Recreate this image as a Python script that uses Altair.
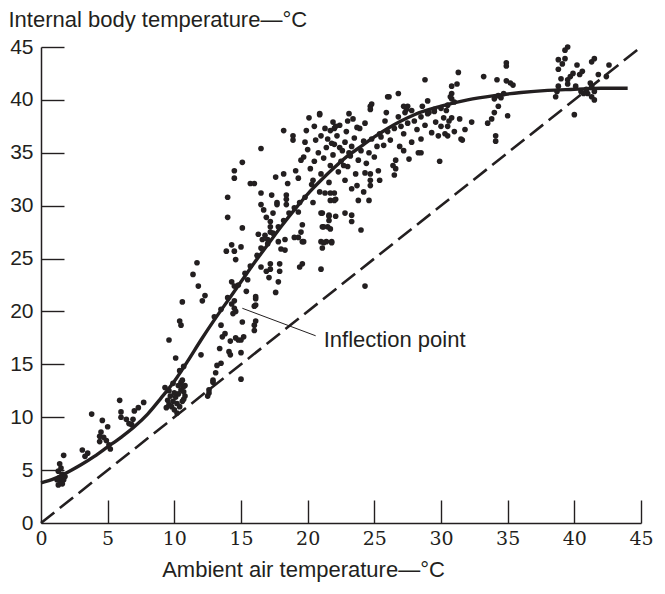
import altair as alt
import pandas as pd

INK = "#231f20"
x_ticks = [0, 5, 10, 15, 20, 25, 30, 35, 40, 45]
y_ticks = [0, 5, 10, 15, 20, 25, 30, 35, 40, 45]

curve_x = [0,1,2,3,4,5,6,7,8,9,10,11,12,13,14,15,16,17,18,19,20,21,22,23,24,25,26,27,28,30,32,34,36,38,40,42,44]
curve_y = [3.8,4.2,4.8,5.5,6.3,7.2,8.1,9.1,10.3,11.8,13.4,15.3,17.3,19.2,21.0,22.8,24.6,26.3,28.0,29.6,31.1,32.4,33.6,34.7,35.6,36.5,37.3,38.0,38.6,39.4,40.0,40.4,40.7,40.9,41.0,41.1,41.1]
diag_x = [0, 45]
diag_y = [0, 45]

pts_low = [(1.3,3.6),(1.5,3.9),(1.7,4.1),(1.4,4.3),(1.6,4.6),(1.3,4.9),(1.5,5.2),(1.4,5.6),(1.6,3.7),(1.8,4.4),(1.2,4.1),(1.7,6.4),
(3.1,6.9),(3.5,6.6),(3.3,6.3),(3.8,10.3),(4.6,9.7),(4.4,7.7),(4.4,8.2),(4.5,8.6),(5.0,9.1),(5.1,7.4),(5.2,7.0),(4.7,8.1),(4.9,7.8),
(5.9,11.6),(6.0,10.0),(6.0,10.5),(6.4,9.8),(6.8,9.3),(6.9,9.8),(7.0,10.6),(7.7,11.4),(7.3,10.9),(6.6,9.4)]
pts_ten = [(9.4,10.9),(9.6,11.2),(9.8,11.0),(10.0,10.7),(10.2,11.3),(9.5,11.6),(9.7,12.0),(9.9,11.5),(10.1,11.9),(10.3,12.2),(10.5,12.6),
(10.4,11.0),(10.6,11.5),(10.7,12.9),(10.5,13.3),(9.6,12.5),(10.0,12.3),(9.3,12.8),(10.8,12.0),(10.2,10.4),(10.6,13.5),(9.9,13.2),
(10.3,13.0),(10.1,15.6),(10.7,14.8),(10.4,14.4),(9.6,17.3),(10.6,20.9),(10.4,19.1),(10.5,18.7),(12.0,15.9),(12.1,21.0),
(12.6,12.3),(12.5,12.0),(12.9,13.5),(12.9,13.3),(12.6,12.6),(10.7,11.7),(10.7,12.4),(10.8,13.0)]
pts_mid_low = [(13.4,16.5),(13.5,15.1),(13.2,14.9),(13.1,14.2),(13.6,17.6),(13.8,17.9),(14.1,16.2),(14.2,15.9),(13.5,18.7),(14.4,19.8),
(14.5,20.3),(14.3,20.7),(14.5,21.0),(14.6,20.0),(14.6,17.5),(15.2,17.6),(15.0,17.3),(15.1,19.0),(15.0,16.1),(15.0,13.6),
(16.0,18.2),(16.0,18.7),(16.1,19.1),(16.0,20.5),(16.1,21.2),(16.1,20.6),(14.2,17.2),(14.8,17.3)]
pts_mid = [(14.3,26.3),(14.5,25.7),(13.9,25.7),(15.0,26.1),(14.6,24.9),(11.7,24.6),(11.4,23.5),(11.8,22.4),(12.3,21.5),(14.3,22.8),
(14.5,22.4),(15.4,21.9),(16.1,21.4),(16.5,26.0),(17.0,26.4),(17.8,26.6),(18.3,26.8),(19.3,27.0),(19.6,26.6),(18.0,25.9),
(18.3,25.8),(17.1,23.2),(17.2,24.0),(17.2,24.5),(17.9,24.5),(17.9,23.8),(17.8,22.8),(17.6,21.8),(19.4,24.2),(19.6,24.5),
(16.5,24.2),(16.9,23.8),(13.0,19.5),(13.5,20.2),(14.0,21.3),(14.8,22.5),(15.3,23.6),(15.7,24.3),(16.2,25.3),(16.6,25.9),
(17.0,26.8),(17.4,27.4),(17.8,28.0),(18.2,28.6),(18.6,29.3),(19.0,29.8),(19.4,30.3),(19.8,30.8),(15.5,23.0),(16.8,27.2)]
pts_upper_left = [(20.9,38.6),(20.1,38.3),(20.5,37.5),(18.2,37.1),(18.9,36.6),(18.9,36.2),(19.9,37.1),(16.5,35.4),(15.1,34.1),(14.5,33.3),
(14.5,32.6),(15.7,32.1),(16.0,32.1),(14.0,30.8),(14.0,28.9),(15.1,27.9),(16.5,31.2),(17.3,31.0),(16.5,30.1),(16.7,29.6),
(17.6,32.7),(18.2,33.0),(18.5,32.1),(19.1,33.3),(19.5,34.3),(19.7,34.6),(17.7,30.1),(17.7,30.3),(18.4,30.1),(18.4,30.6),
(18.4,31.0),(17.4,29.3),(16.9,28.9),(17.2,27.5),(17.2,28.0),(17.2,28.5),(16.3,27.3),(16.6,26.8),(19.3,32.6),(19.3,29.4),
(19.5,27.5),(19.6,28.2),(19.0,27.0),(19.7,26.6),(20.4,30.3),(21.1,29.3),(21.5,28.0),(21.6,28.6),(21.6,29.1),(21.1,28.0),
(21.7,30.5),(22.0,31.2),(20.9,31.3),(21.0,26.6),(21.4,26.6),(21.8,26.6),(22.0,37.3),(21.9,37.9)]
pts_core = [(20.2,33.5),(20.5,34.2),(20.8,35.0),(21.0,33.0),(21.2,34.5),(21.4,35.5),(21.5,36.3),(21.7,33.8),(21.9,34.8),(22.0,35.8),
(22.2,36.6),(22.3,33.2),(22.5,34.2),(22.6,35.2),(22.8,36.0),(22.9,37.0),(23.0,33.7),(23.2,34.7),(23.3,35.6),(23.5,36.4),
(23.6,33.0),(23.8,34.3),(24.0,35.2),(24.2,36.1),(24.4,34.0),(24.6,35.0),(24.8,36.3),(25.0,34.6),(25.2,35.6),(25.4,36.8),
(21.0,36.6),(20.6,36.2),(21.3,37.3),(22.4,37.6),(23.0,38.0),(20.4,32.4),(21.6,32.2),(22.8,32.4),(23.3,31.6),(22.1,30.6),
(24.3,33.1),(23.7,37.4),(22.7,33.8),(22.4,35.5),(23.1,35.0),(21.8,35.9),(20.0,35.3),(19.8,36.0),(20.3,32.0)]
pts_upper = [(26.8,40.6),(26.0,40.3),(24.7,39.1),(24.7,39.4),(23.1,38.7),(23.4,38.2),(20.9,38.7),(25.9,38.8),(27.3,38.8),(27.4,39.1),
(27.5,39.4),(24.3,37.8),(23.9,37.3),(22.1,37.5),(21.7,37.1),(25.7,35.7),(27.2,35.2),(28.3,35.0),(27.6,34.4),(29.9,34.2),
(26.5,32.9),(26.6,33.5),(26.6,34.3),(26.4,33.8),(25.3,33.3),(25.4,32.4),(24.7,31.9),(24.7,32.4),(24.7,33.0),(23.7,31.9),
(24.6,30.5),(23.8,30.5),(24.2,31.3),(22.0,30.5),(21.3,31.2),(21.7,31.2),(21.0,29.3),(21.6,29.0),(22.1,29.0),(22.8,29.3),
(23.3,28.5),(23.3,29.1),(21.2,28.0),(21.7,27.8),(24.0,27.7),(21.2,26.5),(21.8,26.5),(21.1,26.0),(21.0,24.0),(24.3,22.4),
(29.0,39.9),(28.6,39.4),(29.1,38.8),(29.5,39.1),(30.8,40.1),(30.8,40.6),(30.8,41.3),(31.4,38.2),(31.5,36.3),(30.5,36.6),(29.8,36.6)]
pts_band = [(25.5,36.5),(26.0,37.0),(26.5,37.3),(27.0,37.5),(27.5,37.8),(28.0,38.0),(28.5,38.4),(29.0,38.7),(29.5,38.9),(30.0,39.2),
(26.2,36.2),(27.2,36.8),(28.2,37.2),(28.8,37.6),(29.6,37.9),(30.2,38.3),(25.8,38.0),(26.8,38.4),(27.8,39.0),(30.5,39.5),
(30.0,37.5),(29.3,36.9),(28.5,36.3),(27.8,36.0),(26.9,35.6),(31.0,39.8)]
pts_thirty = [(28.8,41.9),(31.3,42.6),(31.2,41.5),(30.7,40.3),(33.2,42.2),(34.2,41.9),(34.9,43.5),(34.9,43.2),(34.9,41.8),(35.4,41.4),
(35.2,41.6),(34.0,40.1),(34.3,40.4),(34.7,40.6),(34.5,40.2),(33.8,38.2),(34.0,38.8),(34.3,39.4),(33.5,37.8),(34.1,36.1),
(34.1,36.6),(35.0,38.5),(32.3,37.9),(31.8,37.2),(31.6,36.2),(28.5,35.0),(26.1,40.3),(24.8,39.6),(27.2,39.4),
(30.3,36.8),(30.5,37.5),(30.8,38.3),(30.4,39.0),(31.0,37.0),(30.6,38.0)]
pts_forty = [(39.5,45.0),(39.3,44.7),(38.8,43.8),(39.1,43.4),(39.3,43.9),(40.2,43.3),(41.3,43.6),(41.5,43.9),(42.6,43.3),(38.8,42.9),
(39.5,41.9),(39.9,42.5),(39.7,42.2),(39.0,42.0),(40.4,42.4),(40.6,42.7),(41.8,42.4),(42.4,42.2),(38.6,40.3),(38.7,40.8),
(38.8,41.3),(39.5,41.5),(40.1,41.3),(41.0,40.6),(41.3,41.3),(41.5,40.8),(41.3,40.3),(41.5,40.0),(40.0,38.6),(40.7,40.6),
(40.9,41.0),(41.2,41.6),(40.5,40.8)]

label_text = "Inflection point"
label_pos = (21.2, 17.3)
leader_from = (15.1, 20.3)
leader_to = (20.6, 17.7)

W, H = 600, 476
SANS = "Liberation Sans"
SERIF = "DejaVu Serif"

pts = pts_low + pts_ten + pts_mid_low + pts_mid + pts_upper_left + pts_core + pts_upper + pts_band + pts_thirty + pts_forty
points_df = pd.DataFrame(pts, columns=["x", "y"])
curve_df = pd.DataFrame({"x": curve_x, "y": curve_y})
diag_df = pd.DataFrame({"x": diag_x, "y": diag_y})
leader_df = pd.DataFrame({"x": [leader_from[0]], "y": [leader_from[1]], "x2": [leader_to[0]], "y2": [leader_to[1]]})
label_df = pd.DataFrame({"x": [label_pos[0]], "y": [label_pos[1]], "t": [label_text]})

xscale = alt.Scale(domain=[0, 45], nice=False, zero=False)
yscale = alt.Scale(domain=[0, 45], nice=False, zero=False)

xaxis = alt.Axis(values=x_ticks, title="Ambient air temperature—°C", grid=False, ticks=False,
                 labelFont=SERIF, labelFontSize=19, labelColor=INK, labelPadding=6, labelFlush=False,
                 domainColor=INK, domainWidth=1.5, titleFont=SANS, titleFontSize=22, titleFontWeight="normal",
                 titleColor=INK, titleX=262, titleY=46, titleAlign="center", titleBaseline="middle")
yaxis = alt.Axis(values=y_ticks, title="Internal body temperature—°C", grid=False, ticks=False,
                 labelFont=SANS, labelFontSize=21, labelColor=INK, labelPadding=8, labelFlush=False,
                 domainColor=INK, domainWidth=1.5, titleFont=SANS, titleFontSize=22, titleFontWeight="normal",
                 titleColor=INK, titleAngle=0, titleX=-33, titleY=-28, titleAlign="left", titleBaseline="middle")

# inward ticks: a second pair of axes, turned to face into the plot
xtick_axis = alt.Axis(values=x_ticks[1:], orient="top", offset=-H, labels=False, domain=False, grid=False,
                      tickSize=23, tickWidth=1.4, tickColor=INK, title="")
ytick_axis = alt.Axis(values=y_ticks[1:], orient="right", offset=-W, labels=False, domain=False, grid=False,
                      tickSize=23, tickWidth=1.4, tickColor=INK, title="")

def X(axis=xaxis):
    return alt.X("x:Q", scale=xscale, axis=axis)

def Y(axis=yaxis):
    return alt.Y("y:Q", scale=yscale, axis=axis)

diag = alt.Chart(diag_df).mark_line(strokeWidth=2.6, strokeDash=[17, 7], color=INK).encode(x=X(), y=Y())
curve = alt.Chart(curve_df).mark_line(interpolate="monotone", strokeWidth=3.4, color=INK).encode(x=X(), y=Y())
points = alt.Chart(points_df).mark_circle(size=32, color=INK, opacity=1).encode(x=X(), y=Y())
leader = alt.Chart(leader_df).mark_rule(strokeWidth=1, color=INK).encode(x=X(), y=Y(), x2="x2", y2="y2")
label = alt.Chart(label_df).mark_text(align="left", baseline="middle", font=SANS, fontSize=22, color=INK).encode(
    x=X(), y=Y(), text="t:N")

main = alt.layer(diag, curve, points, leader, label)
ticks = alt.Chart(curve_df).mark_line(opacity=0).encode(x=X(xtick_axis), y=Y(ytick_axis))

chart = alt.layer(main, ticks).resolve_axis(x="independent", y="independent").properties(
    width=W, height=H,
    padding={"left": 33, "top": 39, "right": 16, "bottom": 62},
    autosize=alt.AutoSizeParams(type="none"),
    background="white",
).configure_view(stroke=None)

chart.save("out.html", embed_options={"renderer": "svg", "actions": False})
